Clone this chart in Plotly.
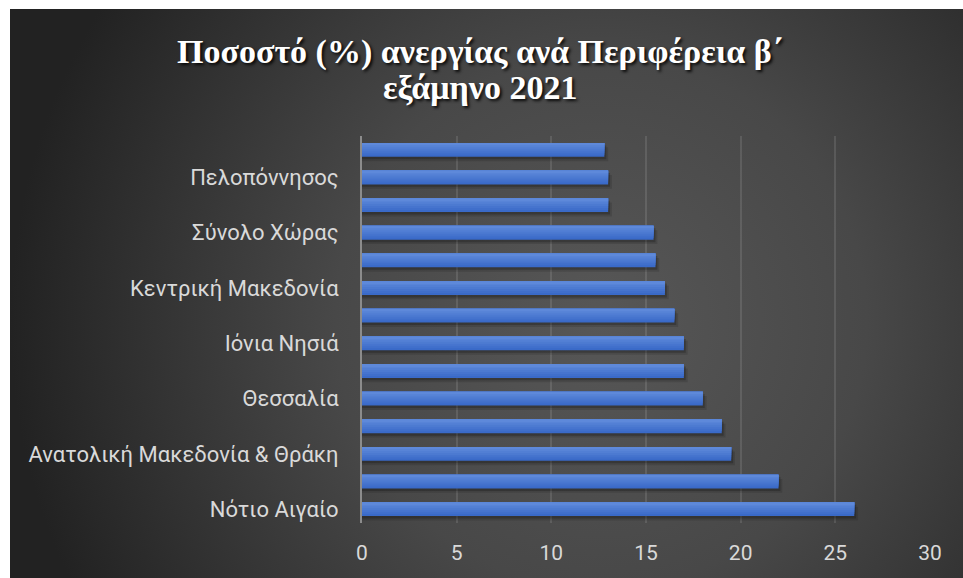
import base64
import plotly.graph_objects as go

# Unemployment rate (%) by region, H2 2021 (bottom to top of the chart)
regions = [
    "Νότιο Αιγαίο",
    "Δυτική Μακεδονία",
    "Ανατολική Μακεδονία & Θράκη",
    "Δυτική Ελλάδα",
    "Θεσσαλία",
    "Ήπειρος",
    "Ιόνια Νησιά",
    "Στερεά Ελλάδα",
    "Κεντρική Μακεδονία",
    "Αττική",
    "Σύνολο Χώρας",
    "Βόρειο Αιγαίο",
    "Πελοπόννησος",
    "Κρήτη",
]
rates = [26.0, 22.0, 19.5, 19.0, 18.0, 17.0, 17.0, 16.5, 16.0, 15.5, 15.4, 13.0, 13.0, 12.8]

# only every second category label fits on the axis
shown_labels = regions[::2]
x_ticks = [0, 5, 10, 15, 20, 25, 30]

title_lines = ["Ποσοστό (%) ανεργίας ανά Περιφέρεια β΄", "εξάμηνο 2021"]

W, H = 963, 578
L, R, T, B = 362, 33, 136, 55
plot_w = W - L - R
plot_h = H - T - B

# radial grey backdrop of the chart frame
frame_x0, frame_y0 = 10, 9
fw, fh = W - frame_x0, H - frame_y0
svg = f"""<svg xmlns='http://www.w3.org/2000/svg' width='{fw}' height='{fh}' viewBox='0 0 {fw} {fh}' preserveAspectRatio='none'>
<defs><radialGradient id='g' gradientUnits='userSpaceOnUse' cx='{fw*0.62}' cy='{fh*0.55}' r='{fw*0.62}'>
<stop offset='0' stop-color='#575757'/>
<stop offset='0.45' stop-color='#484848'/>
<stop offset='1' stop-color='#222222'/>
</radialGradient></defs>
<rect x='0' y='0' width='{fw}' height='{fh}' fill='url(#g)'/>
</svg>"""
bg_uri = "data:image/svg+xml;base64," + base64.b64encode(svg.encode("utf-8")).decode("ascii")

fig = go.Figure()

bar_w = 0.5

# soft drop shadow under each bar (two layers for a blurred edge)
for shift, ext, alpha in [(0.16, 0.2, 0.12), (0.09, 0.1, 0.2)]:
    fig.add_trace(go.Bar(
        y=regions, x=[v + ext for v in rates], orientation="h",
        width=bar_w, offset=-bar_w / 2 - shift,
        marker=dict(color="rgba(0,0,0,%.2f)" % alpha, line=dict(width=0)),
        hoverinfo="skip", showlegend=False,
    ))

# bars with a vertical blue gradient (darker at the bottom)
bottom_rgb = (58, 106, 200)
top_rgb = (94, 137, 218)
steps = 7
for i in range(steps):
    t = i / (steps - 1)
    rgb = tuple(round(b + (tp - b) * t) for b, tp in zip(bottom_rgb, top_rgb))
    h = bar_w * (1 - i / steps)
    fig.add_trace(go.Bar(
        y=regions, x=rates, orientation="h",
        width=h, offset=bar_w / 2 - h,
        marker=dict(color="rgb(%d,%d,%d)" % rgb, line=dict(width=0)),
        hovertemplate="%{y}: %{x}%<extra></extra>" if i == 0 else None,
        hoverinfo=None if i == 0 else "skip",
        showlegend=False,
    ))

fig.update_layout(
    width=W, height=H,
    margin=dict(l=L, r=R, t=T, b=B, autoexpand=False),
    paper_bgcolor="white",
    plot_bgcolor="rgba(0,0,0,0)",
    barmode="overlay",
    showlegend=False,
    font=dict(family="Roboto", color="#d9d9d9"),
    images=[dict(
        source=bg_uri, xref="paper", yref="paper",
        x=(frame_x0 - L) / plot_w, y=1 + (T - frame_y0) / plot_h,
        sizex=fw / plot_w, sizey=fh / plot_h,
        xanchor="left", yanchor="top", sizing="stretch", layer="below",
    )],
    xaxis=dict(
        range=[0, 30], tickvals=x_ticks,
        showgrid=True, gridcolor="rgba(255,255,255,0.11)", gridwidth=2,
        zeroline=False, showline=False, ticks="",
        tickfont=dict(size=21, color="#d9d9d9"),
        ticklabelstandoff=15,
        fixedrange=True,
    ),
    yaxis=dict(
        type="category",
        tickvals=shown_labels, ticktext=shown_labels,
        showgrid=False, zeroline=False,
        showline=True, linecolor="#8c8c8c", linewidth=2,
        ticks="", tickfont=dict(size=22, color="#d9d9d9"),
        ticklabelstandoff=17,
        fixedrange=True,
    ),
)

# two-line chart title in bold serif with a drop shadow
for text, yb in zip(title_lines, [73, 108]):
    fig.add_annotation(
        text="<b>%s</b>" % text,
        xref="paper", yref="paper",
        x=(480 - L) / plot_w, y=1 + (T - yb) / plot_h,
        xanchor="center", yanchor="bottom", showarrow=False,
        font=dict(family="Liberation Serif", size=34, color="#ffffff",
                  shadow="2px 2px 3px rgba(0,0,0,0.85)"),
    )

fig.write_html("out.html")
